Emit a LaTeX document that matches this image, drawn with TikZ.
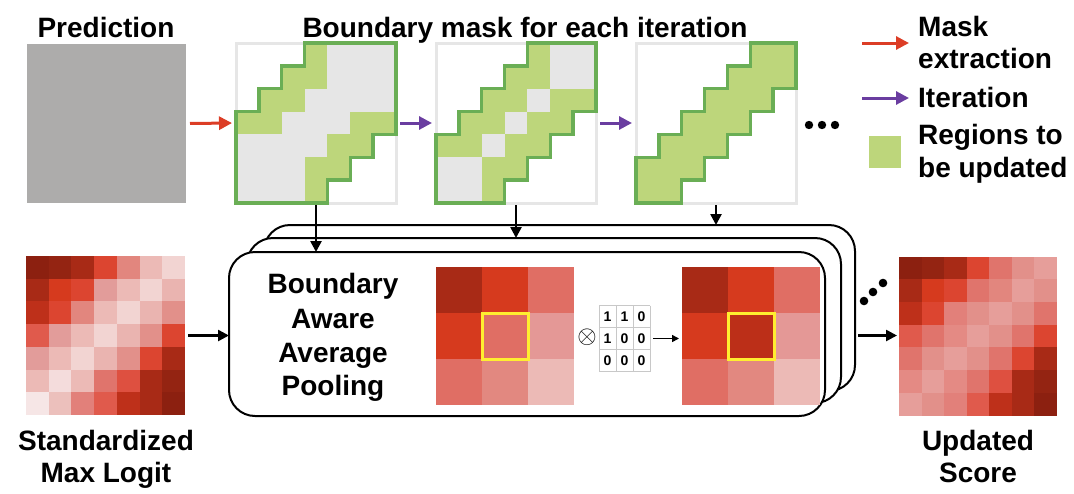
\documentclass[tikz,border=0pt]{standalone}
\usepackage{fontspec}
\setmainfont{Liberation Sans}
\usetikzlibrary{arrows.meta}
\definecolor{predgray}{HTML}{ADACAB}
\definecolor{mgray}{HTML}{E6E6E6}
\definecolor{mgreen}{HTML}{BDD67B}
\definecolor{mline}{HTML}{6AAE55}
\definecolor{arrred}{HTML}{DC3D26}
\definecolor{arrpurple}{HTML}{6A3DA0}
\definecolor{yel}{HTML}{FFEE30}
\definecolor{kgrid}{HTML}{C8C8C8}
\definecolor{hA}{HTML}{8C2010}
\definecolor{hB}{HTML}{942412}
\definecolor{hC}{HTML}{A82A16}
\definecolor{hD}{HTML}{BE301A}
\definecolor{hE}{HTML}{D63A1E}
\definecolor{hF}{HTML}{DC4530}
\definecolor{hG}{HTML}{DE5040}
\definecolor{hH}{HTML}{E05A4C}
\definecolor{hI}{HTML}{E0746C}
\definecolor{hK}{HTML}{E2807A}
\definecolor{hL}{HTML}{E2867E}
\definecolor{hM}{HTML}{E48A84}
\definecolor{hN}{HTML}{E2908A}
\definecolor{hO}{HTML}{E29C9A}
\definecolor{hP}{HTML}{E69E9A}
\definecolor{hQ}{HTML}{EAB4B0}
\definecolor{hR}{HTML}{ECBAB6}
\definecolor{hS}{HTML}{ECC0BC}
\definecolor{hT}{HTML}{F2D4D2}
\definecolor{hU}{HTML}{F4DCDC}
\definecolor{hV}{HTML}{F6E6E6}
\definecolor{hW}{HTML}{E06E64}
\definecolor{hX}{HTML}{E49896}
\definecolor{hY}{HTML}{E28880}
\definecolor{hZ}{HTML}{BC2F18}
\begin{document}
\begin{tikzpicture}[x=1pt,y=-1pt,
  lbl/.style={font=\fontsize{28}{33}\selectfont\bfseries, inner sep=0pt, anchor=base},
  lbll/.style={lbl, anchor=base west},
  kd/.style={font=\fontsize{14}{14}\selectfont\bfseries, inner sep=0pt},
  area/.style={draw=none, inner sep=0pt, outer sep=0pt},
  moutline/.style={draw=mline, line width=3.5pt, line join=miter},
  mborder/.style={draw=mgray, line width=3pt},
  pbox/.style={draw=black, line width=2pt, fill=white, rounded corners=26pt, inner sep=0pt, outer sep=0pt},
  rarr/.style={draw=arrred, line width=3pt, -{Triangle[length=13pt,width=13pt]}},
  parr/.style={draw=arrpurple, line width=3pt, -{Triangle[length=13pt,width=13pt]}},
  barr/.style={draw=black, line width=2.5pt, -{Triangle[length=11pt,width=11pt]}},
  karr/.style={draw=black, line width=1.5pt, -{Triangle[length=7pt,width=7pt]}},
  dot/.style={fill=black}
]
\useasboundingbox (0,0) rectangle (1074,493);

% ---------- titles ----------
\node[lbl] (tpred) at (106,37) {Prediction};
\node[lbl] (tmask) at (525,37) {Boundary mask for each iteration};

% ---------- prediction ----------
\node[area, fill=predgray, minimum size=159pt] (pred) at (106.5,123.5) {};

% ---------- masks ----------
\node[area, minimum size=160pt] (m1) at (316,123) {};
\node[area, minimum size=160pt] (m2) at (516,123) {};
\node[area, minimum size=160pt] (m3) at (716,123) {};

\begin{scope}[shift={(m1.north west)},x=22.857pt,y=-22.857pt]
  \fill[mgray] (3,0)--(7,0)--(7,4)--(6,4)--(6,5)--(5,5)--(5,6)--(4,6)--(4,7)--(0,7)--(0,3)--(1,3)--(1,2)--(2,2)--(2,1)--(3,1)--cycle;
  \foreach \c/\r in {3/0,2/1,3/1,1/2,2/2,0/3,1/3,5/3,6/3,4/4,5/4,3/5,4/5,3/6}
    \fill[mgreen] (\c,\r) rectangle ++(1,1);
  \draw[mborder] (0,0) rectangle (7,7);
  \draw[moutline] (3,0)--(7,0)--(7,4)--(6,4)--(6,5)--(5,5)--(5,6)--(4,6)--(4,7)--(0,7)--(0,3)--(1,3)--(1,2)--(2,2)--(2,1)--(3,1)--cycle;
\end{scope}

\begin{scope}[shift={(m2.north west)},x=22.857pt,y=-22.857pt]
  \fill[mgray] (4,0)--(7,0)--(7,3)--(6,3)--(6,4)--(5,4)--(5,5)--(4,5)--(4,6)--(3,6)--(3,7)--(0,7)--(0,4)--(1,4)--(1,3)--(2,3)--(2,2)--(3,2)--(3,1)--(4,1)--cycle;
  \foreach \c/\r in {4/0,3/1,4/1,2/2,3/2,5/2,6/2,1/3,2/3,4/3,5/3,0/4,1/4,3/4,4/4,2/5,3/5,2/6}
    \fill[mgreen] (\c,\r) rectangle ++(1,1);
  \draw[mborder] (0,0) rectangle (7,7);
  \draw[moutline] (4,0)--(7,0)--(7,3)--(6,3)--(6,4)--(5,4)--(5,5)--(4,5)--(4,6)--(3,6)--(3,7)--(0,7)--(0,4)--(1,4)--(1,3)--(2,3)--(2,2)--(3,2)--(3,1)--(4,1)--cycle;
\end{scope}

\begin{scope}[shift={(m3.north west)},x=22.857pt,y=-22.857pt]
  \draw[mborder] (0,0) rectangle (7,7);
  \filldraw[moutline, fill=mgreen] (5,0)--(7,0)--(7,2)--(6,2)--(6,3)--(5,3)--(5,4)--(4,4)--(4,5)--(3,5)--(3,6)--(2,6)--(2,7)--(0,7)--(0,5)--(1,5)--(1,4)--(2,4)--(2,3)--(3,3)--(3,2)--(4,2)--(4,1)--(5,1)--cycle;
\end{scope}

\draw[rarr, shorten <=4pt, shorten >=4pt] (pred.east) -- (m1.west);
\draw[parr, shorten <=4pt, shorten >=4pt] (m1.east) -- (m2.west);
\draw[parr, shorten <=4pt, shorten >=4pt] (m2.east) -- (m3.west);

\fill[dot] (809,125) circle (4.2pt) (822,125) circle (4.2pt) (835,125) circle (4.2pt);

% ---------- legend ----------
\coordinate (lr1) at (862,43);
\coordinate (lr2) at (909,43);
\coordinate (lp1) at (862,98);
\coordinate (lp2) at (909,98);
\draw[rarr] (lr1) -- (lr2);
\draw[parr] (lp1) -- (lp2);
\node[area, fill=mgreen, minimum size=32pt] (lg) at (885,151.5) {};
\node[lbll] (t1) at (918,36) {Mask};
\node[lbll] (t2) at (918,68) {extraction};
\node[lbll] (t3) at (918,107) {Iteration};
\node[lbll] (t4) at (918,144) {Regions to};
\node[lbll] (t5) at (918,177) {be updated};

% ---------- stacked boxes ----------
\node[pbox, minimum width=591pt, minimum height=166pt] (f3) at (559.5,308) {};
\node[pbox, minimum width=594pt, minimum height=165pt] (f2) at (544,320.5) {};
\node[pbox, minimum width=596pt, minimum height=164pt] (f1) at (527,334) {};

\draw[barr, shorten <=2pt] (m1.south) -- (m1.south |- f1.north);
\draw[barr, shorten <=2pt] (m2.south) -- (m2.south |- f2.north);
\draw[barr, shorten <=2pt] (m3.south) -- (m3.south |- f3.north);

\node[lbl] (b1) at (333,293) {Boundary};
\node[lbl] (b2) at (333,328) {Aware};
\node[lbl] (b3) at (333,362) {Average};
\node[lbl] (b4) at (333,395) {Pooling};

% ---------- 3x3 grids ----------
\node[area, minimum size=138pt] (g1) at (505,336) {};
\node[area, minimum size=138pt] (g2) at (751,336) {};
\begin{scope}[shift={(g1.north west)},x=46pt,y=-46pt]
  \foreach \row [count=\r from 0] in {{hC,hE,hW},{hE,hW,hX},{hW,hY,hR}}
    \foreach \c [count=\i from 0] in \row
      \fill[\c] (\i,\r) rectangle ++(1,1);
  \draw[yel, line width=3pt] (1,1) rectangle (2,2);
\end{scope}
\begin{scope}[shift={(g2.north west)},x=46pt,y=-46pt]
  \foreach \row [count=\r from 0] in {{hC,hE,hW},{hE,hZ,hX},{hW,hY,hR}}
    \foreach \c [count=\i from 0] in \row
      \fill[\c] (\i,\r) rectangle ++(1,1);
  \draw[yel, line width=3pt] (1,1) rectangle (2,2);
\end{scope}

% ---------- kernel ----------
\node[area, fill=white, minimum width=51pt, minimum height=66pt] (k) at (624.5,338.5) {};
\begin{scope}[shift={(k.north west)},x=17pt,y=-22pt]
  \foreach \i in {0,1,2,3} \draw[kgrid, line width=1pt] (\i,0) -- (\i,3);
  \foreach \j in {0,1,2,3} \draw[kgrid, line width=1pt] (0,\j) -- (3,\j);
  \foreach \row [count=\r from 0] in {{1,1,0},{1,0,0},{0,0,0}}
    \foreach \v [count=\i from 0] in \row
      \node[kd] at (\i+0.5,\r+0.5) {\v};
\end{scope}
\node[inner sep=0pt, font=\fontsize{26}{26}\selectfont] (ot) at (587,337) {$\otimes$};
\draw[karr, shorten <=3pt, shorten >=3pt] (k.east) -- (k.east -| g2.west);

% ---------- heatmaps ----------
\node[area, minimum size=159pt] (hl) at (105.5,335.5) {};
\node[area, minimum size=158pt] (hr) at (978,335.5) {};
\begin{scope}[shift={(hl.north west)},x=22.714pt,y=-22.714pt]
  \foreach \row [count=\r from 0] in {
    {hA,hB,hC,hF,hL,hR,hT},
    {hC,hE,hF,hO,hR,hT,hQ},
    {hD,hF,hL,hR,hT,hQ,hN},
    {hH,hO,hR,hT,hQ,hN,hF},
    {hO,hR,hT,hQ,hN,hF,hC},
    {hR,hU,hR,hI,hG,hC,hB},
    {hV,hS,hK,hH,hD,hC,hA}}
    \foreach \c [count=\i from 0] in \row
      \fill[\c] (\i,\r) rectangle ++(1.02,1.02);
\end{scope}
\begin{scope}[shift={(hr.north west)},x=22.571pt,y=-22.714pt]
  \foreach \row [count=\r from 0] in {
    {hA,hB,hC,hF,hI,hN,hP},
    {hC,hE,hF,hI,hL,hP,hN},
    {hD,hF,hK,hN,hP,hN,hI},
    {hH,hI,hM,hP,hN,hI,hF},
    {hI,hN,hP,hN,hI,hF,hC},
    {hM,hP,hM,hI,hG,hC,hB},
    {hP,hN,hK,hH,hD,hC,hA}}
    \foreach \c [count=\i from 0] in \row
      \fill[\c] (\i,\r) rectangle ++(1.02,1.02);
\end{scope}

\draw[barr, shorten <=3pt] (hl.east) -- (hl.east -| f1.west);
\draw[barr, shorten <=3pt, shorten >=2pt] (hr.west -| f3.east) -- (hr.west);

\fill[dot] (864,301) circle (4.3pt) (873,292) circle (4.3pt) (883,283) circle (4.3pt);

\node[lbl] (s1) at (106,450) {Standardized};
\node[lbl] (s2) at (106,482) {Max Logit};
\node[lbl] (u1) at (978,450) {Updated};
\node[lbl] (u2) at (978,482) {Score};
\end{tikzpicture}
\end{document}
